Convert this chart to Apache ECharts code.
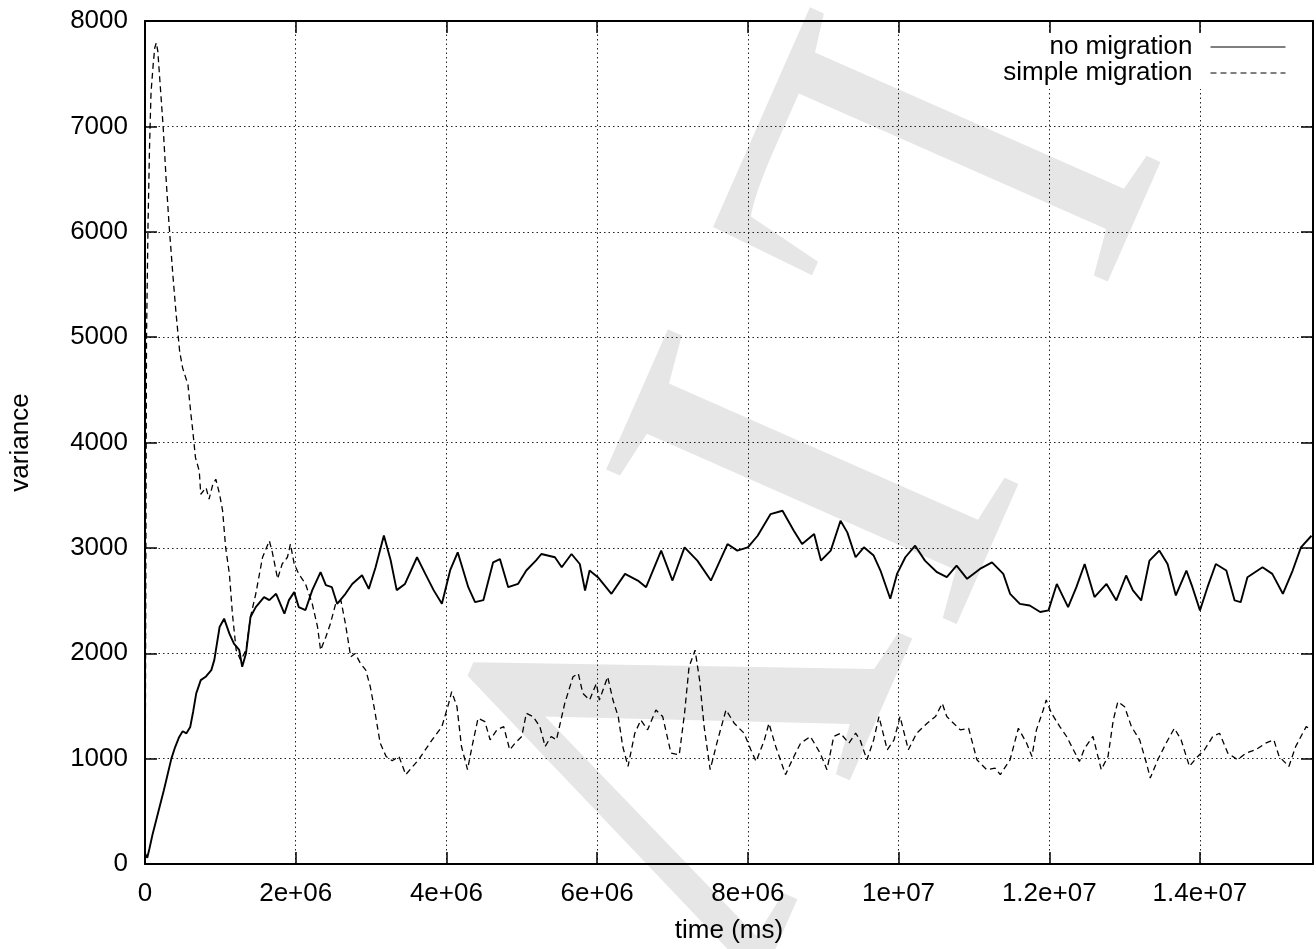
<!DOCTYPE html>
<html>
<head>
<meta charset="utf-8">
<title>variance over time</title>
<script src="https://cdn.jsdelivr.net/npm/echarts@6/dist/echarts.min.js"></script>
<style>
  html, body { margin: 0; padding: 0; background: #fff; }
  #chart { width: 1316px; height: 949px; }
</style>
</head>
<body>
<div id="chart"></div>
<script>
// Tick labels (gnuplot-style exponent format)
const xTickLabels = ['0', '2e+06', '4e+06', '6e+06', '8e+06', '1e+07', '1.2e+07', '1.4e+07'];
const yTickLabels = ['0', '1000', '2000', '3000', '4000', '5000', '6000', '7000', '8000'];

const seriesNames = ['no migration', 'simple migration'];

// "no migration": time in millions of ms, variance
const noMigrationTime = [
  0.00, 0.03, 0.06, 0.10, 0.15, 0.20, 0.25, 0.30, 0.35, 0.40, 0.45, 0.50, 0.55, 0.60, 0.64, 0.68,
  0.74, 0.81, 0.88, 0.92, 0.99, 1.05, 1.12, 1.18, 1.25, 1.29, 1.34, 1.40, 1.47, 1.58, 1.65, 1.74,
  1.85, 1.91, 1.98, 2.04, 2.13, 2.22, 2.33, 2.40, 2.48, 2.55, 2.66, 2.75, 2.88, 2.97, 3.06, 3.17,
  3.26, 3.34, 3.45, 3.61, 3.72, 3.83, 3.94, 4.05, 4.15, 4.29, 4.38, 4.49, 4.62, 4.71, 4.82, 4.95,
  5.06, 5.19, 5.26, 5.44, 5.53, 5.66, 5.77, 5.84, 5.90, 6.01, 6.19, 6.37, 6.54, 6.65, 6.85, 7.00,
  7.16, 7.33, 7.51, 7.73, 7.86, 8.00, 8.13, 8.30, 8.46, 8.61, 8.72, 8.88, 8.97, 9.10, 9.23, 9.32,
  9.43, 9.54, 9.67, 9.76, 9.89, 9.98, 10.09, 10.22, 10.35, 10.51, 10.64, 10.77, 10.91, 11.08, 11.24, 11.39,
  11.48, 11.61, 11.74, 11.88, 11.99, 12.10, 12.25, 12.36, 12.47, 12.60, 12.76, 12.89, 13.02, 13.11, 13.22, 13.33,
  13.46, 13.57, 13.68, 13.82, 13.90, 14.00, 14.10, 14.21, 14.35, 14.46, 14.54, 14.63, 14.83, 14.96, 15.10, 15.23,
  15.34, 15.48
];
const noMigrationVariance = [
  100, 60, 150, 280, 420, 560, 700, 850, 1000, 1110, 1200, 1260, 1240, 1300, 1450, 1619,
  1745, 1780, 1840, 1937, 2249, 2328, 2186, 2091, 2032, 1871, 1997, 2344, 2438, 2533, 2504, 2564,
  2375, 2504, 2580, 2438, 2410, 2599, 2769, 2646, 2627, 2469, 2564, 2658, 2740, 2611, 2816, 3118,
  2882, 2599, 2658, 2911, 2753, 2599, 2469, 2788, 2958, 2627, 2485, 2504, 2863, 2894, 2627, 2658,
  2785, 2882, 2942, 2911, 2816, 2942, 2847, 2596, 2785, 2722, 2564, 2753, 2690, 2627, 2974, 2690,
  3005, 2879, 2690, 3036, 2974, 3005, 3115, 3320, 3352, 3163, 3036, 3131, 2879, 2974, 3257, 3147,
  2911, 3005, 2927, 2785, 2517, 2753, 2911, 3021, 2879, 2769, 2722, 2832, 2706, 2800, 2863, 2753,
  2564, 2469, 2453, 2391, 2407, 2658, 2438, 2627, 2847, 2533, 2658, 2501, 2738, 2596, 2501, 2879,
  2974, 2847, 2549, 2785, 2627, 2407, 2627, 2847, 2785, 2501, 2485, 2722, 2816, 2753, 2564, 2785,
  3005, 3115
];

// "simple migration": time in millions of ms, variance
const simpleMigrationTime = [
  0.00, 0.01, 0.02, 0.04, 0.06, 0.08, 0.11, 0.13, 0.15, 0.17, 0.19, 0.24, 0.28, 0.32, 0.37, 0.41,
  0.46, 0.50, 0.57, 0.61, 0.63, 0.67, 0.72, 0.74, 0.81, 0.85, 0.90, 0.94, 0.99, 1.03, 1.07, 1.12,
  1.16, 1.21, 1.27, 1.34, 1.40, 1.47, 1.56, 1.65, 1.69, 1.76, 1.82, 1.89, 1.93, 1.98, 2.04, 2.13,
  2.22, 2.29, 2.33, 2.40, 2.46, 2.53, 2.60, 2.66, 2.73, 2.79, 2.86, 2.93, 2.99, 3.05, 3.12, 3.20,
  3.28, 3.37, 3.46, 3.63, 3.81, 3.94, 4.03, 4.07, 4.14, 4.20, 4.28, 4.34, 4.42, 4.51, 4.58, 4.67,
  4.76, 4.84, 4.91, 5.00, 5.06, 5.15, 5.24, 5.31, 5.39, 5.46, 5.57, 5.68, 5.75, 5.81, 5.90, 5.99,
  6.03, 6.14, 6.21, 6.28, 6.34, 6.41, 6.50, 6.58, 6.67, 6.78, 6.87, 6.98, 7.09, 7.16, 7.22, 7.30,
  7.36, 7.42, 7.50, 7.60, 7.71, 7.82, 7.95, 8.04, 8.11, 8.22, 8.28, 8.37, 8.50, 8.59, 8.70, 8.83,
  8.96, 9.05, 9.14, 9.23, 9.34, 9.43, 9.49, 9.58, 9.67, 9.74, 9.85, 9.94, 10.02, 10.13, 10.24, 10.38,
  10.49, 10.58, 10.64, 10.73, 10.82, 10.93, 11.04, 11.17, 11.28, 11.35, 11.48, 11.59, 11.70, 11.77, 11.83, 11.92,
  11.96, 12.03, 12.14, 12.23, 12.32, 12.40, 12.47, 12.58, 12.69, 12.78, 12.85, 12.91, 13.00, 13.09, 13.20, 13.29,
  13.34, 13.44, 13.55, 13.66, 13.75, 13.86, 13.95, 14.06, 14.17, 14.26, 14.37, 14.50, 14.61, 14.74, 14.87, 14.98,
  15.05, 15.18, 15.27, 15.41, 15.48
];
const simpleMigrationVariance = [
  50, 2500, 5000, 6060, 6800, 7320, 7600, 7746, 7793, 7714, 7510, 7005, 6502, 6060, 5588, 5242,
  4864, 4706, 4548, 4265, 4139, 3856, 3730, 3509, 3572, 3462, 3603, 3651, 3509, 3352, 3005, 2753,
  2375, 2029, 1934, 2029, 2344, 2564, 2911, 3068, 2958, 2706, 2847, 2911, 3036, 2847, 2753, 2658,
  2469, 2249, 2029, 2155, 2280, 2469, 2501, 2280, 1966, 1997, 1902, 1840, 1682, 1450, 1150, 1020,
  980, 1021, 848, 989, 1178, 1304, 1524, 1635, 1493, 1115, 895, 1115, 1383, 1351, 1178, 1273,
  1304, 1084, 1146, 1210, 1430, 1399, 1304, 1115, 1210, 1178, 1524, 1777, 1808, 1619, 1556, 1713,
  1556, 1777, 1556, 1399, 1115, 926, 1241, 1367, 1273, 1462, 1399, 1052, 1036, 1430, 1871, 2029,
  1745, 1304, 895, 1178, 1462, 1335, 1241, 1084, 973, 1178, 1335, 1115, 848, 989, 1146, 1210,
  1052, 895, 1210, 1241, 1146, 1241, 1178, 989, 1178, 1399, 1084, 1178, 1399, 1084, 1241, 1335,
  1399, 1524, 1399, 1335, 1273, 1288, 989, 895, 910, 848, 989, 1288, 1146, 1021, 1273, 1462,
  1556, 1430, 1304, 1210, 1084, 973, 1099, 1210, 895, 1021, 1367, 1540, 1493, 1304, 1178, 957,
  816, 989, 1146, 1288, 1178, 926, 1005, 1084, 1210, 1241, 1052, 989, 1052, 1084, 1146, 1178,
  1021, 926, 1115, 1304, 1273
];

const X_STEP = 2e6;
const X_MAX = 15.5e6;
const FONT = '"Liberation Sans", Arial, Helvetica, sans-serif';

function toPairs(times, values) {
  return times.map((t, i) => [t * 1e6, values[i]]);
}

function xLabel(v) {
  if (v % X_STEP !== 0) return '';
  const label = xTickLabels[Math.round(v / X_STEP)];
  return label === undefined ? '' : label;
}
function yLabel(v) {
  const label = yTickLabels[Math.round(v / 1000)];
  return label === undefined ? '' : label;
}

const axisLine = { show: true, onZero: false, lineStyle: { color: '#000', width: 2 } };
const axisTick = { show: true, inside: true, length: 12, lineStyle: { color: '#000', width: 1.5 } };
const gridDots = { show: true, lineStyle: { color: '#222', width: 1, type: [1.5, 3] } };

// faint serif lettering laid diagonally behind the plot
const WATERMARK_ANGLE = -113.8 * Math.PI / 180;
const WATERMARK_FONT = '585px "Liberation Serif", "DejaVu Serif", serif';
function watermarkLetter(ch, x, y, scaleX) {
  return {
    type: 'text',
    silent: true,
    z: -10,
    x: x,
    y: y,
    rotation: WATERMARK_ANGLE,
    scaleX: scaleX,
    style: {
      text: ch,
      font: WATERMARK_FONT,
      fill: '#e6e6e6',
      align: 'left',
      verticalAlign: 'middle',
      textAlign: 'left',
      textVerticalAlign: 'middle'
    }
  };
}

const chart = echarts.init(document.getElementById('chart'), null, { renderer: 'canvas' });

chart.setOption({
  animation: false,
  backgroundColor: '#fff',
  textStyle: { fontFamily: FONT },
  graphic: [
    watermarkLetter('L', 956, 57, 0.8),
    watermarkLetter('I', 817, 372, 1),
    watermarkLetter('V', 705, 540, 1)
  ],
  grid: { left: 145, top: 21, width: 1172, height: 847, containLabel: false },
  legend: {
    data: seriesNames,
    orient: 'vertical',
    align: 'right',
    right: 20,
    top: 33,
    padding: [1, 10, 3, 10],
    itemWidth: 75,
    itemHeight: 14,
    itemGap: 0,
    backgroundColor: '#fff',
    itemStyle: { opacity: 0 },
    lineStyle: { width: 1 },
    textStyle: { fontFamily: FONT, fontSize: 26, color: '#000', lineHeight: 25, padding: [0, 13, 0, 0] }
  },
  xAxis: [{
    type: 'value',
    position: 'bottom',
    min: 0,
    max: X_MAX,
    interval: X_STEP,
    name: 'time (ms)',
    nameLocation: 'middle',
    nameGap: 54,
    nameTextStyle: { fontFamily: FONT, fontSize: 26, color: '#000' },
    axisLine: axisLine,
    axisTick: axisTick,
    axisLabel: { formatter: xLabel, fontFamily: FONT, fontSize: 26, color: '#000', margin: 17, lineHeight: 26 },
    splitLine: gridDots
  }, {
    type: 'value',
    position: 'top',
    min: 0,
    max: X_MAX,
    interval: X_STEP,
    axisLine: axisLine,
    axisTick: axisTick,
    axisLabel: { show: false },
    splitLine: { show: false }
  }],
  yAxis: [{
    type: 'value',
    position: 'left',
    min: 0,
    max: 8000,
    interval: 1000,
    name: 'variance',
    nameLocation: 'middle',
    nameGap: 111,
    nameRotate: 90,
    nameTextStyle: { fontFamily: FONT, fontSize: 26, color: '#000' },
    axisLine: axisLine,
    axisTick: axisTick,
    axisLabel: { formatter: yLabel, fontFamily: FONT, fontSize: 26, color: '#000', margin: 17 },
    splitLine: gridDots
  }, {
    type: 'value',
    position: 'right',
    min: 0,
    max: 8000,
    interval: 1000,
    axisLine: axisLine,
    axisTick: axisTick,
    axisLabel: { show: false },
    splitLine: { show: false }
  }],
  series: [{
    name: seriesNames[0],
    type: 'line',
    xAxisIndex: 0,
    yAxisIndex: 0,
    showSymbol: false,
    symbol: 'none',
    lineStyle: { color: '#000', width: 1.9, type: 'solid' },
    itemStyle: { color: '#000' },
    data: toPairs(noMigrationTime, noMigrationVariance)
  }, {
    name: seriesNames[1],
    type: 'line',
    xAxisIndex: 0,
    yAxisIndex: 0,
    showSymbol: false,
    symbol: 'none',
    lineStyle: { color: '#000', width: 1.3, type: [6, 4] },
    itemStyle: { color: '#000' },
    data: toPairs(simpleMigrationTime, simpleMigrationVariance)
  }]
});
</script>
</body>
</html>
